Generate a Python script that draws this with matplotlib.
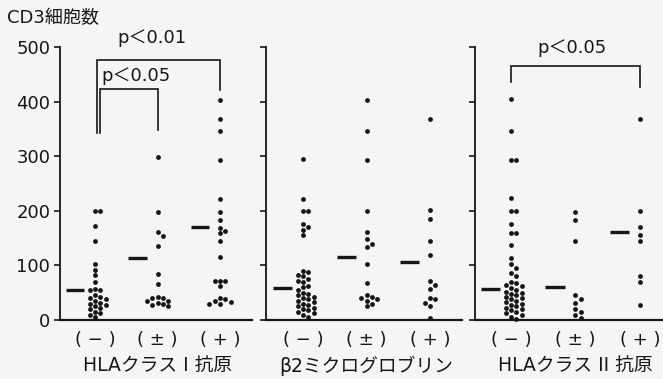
import numpy as np
import matplotlib
matplotlib.use("Agg")
import matplotlib.pyplot as plt

plt.rcParams['font.family'] = ['DejaVu Sans', 'Noto Sans CJK JP']

# CD3 cell counts per group
hla1_neg = [200, 200, 173, 145, 102, 92, 82, 70, 57, 55, 55, 45, 42, 40, 38, 35, 32,
            30, 28, 25, 22, 20, 15, 12, 10, 5]
hla1_pm = [298, 198, 162, 154, 135, 84, 66, 42, 40, 40, 35, 35, 32, 30, 28, 26]
hla1_pos = [403, 368, 346, 293, 222, 198, 183, 168, 163, 159, 145, 115, 72, 72, 72,
            62, 40, 38, 35, 33, 30, 30]

b2m_neg = [295, 222, 200, 200, 175, 170, 165, 156, 90, 88, 82, 80, 75, 72, 70, 62, 60,
           55, 50, 48, 45, 42, 40, 38, 35, 33, 30, 28, 25, 22, 20, 18, 15, 12, 10, 5]
b2m_pm = [403, 346, 293, 200, 162, 148, 140, 134, 103, 68, 45, 42, 40, 38, 35, 30, 25]
b2m_pos = [368, 201, 185, 145, 119, 72, 64, 57, 40, 38, 32, 25, 3]

hla2_neg = [405, 346, 293, 293, 223, 200, 200, 176, 160, 160, 137, 113, 103, 95, 86, 80,
            70, 68, 65, 62, 58, 55, 52, 50, 48, 45, 42, 40, 38, 35, 33, 30, 28, 25, 22,
            20, 18, 15, 12, 10, 5, 2]
hla2_pm = [198, 183, 145, 45, 38, 32, 20, 15, 10, 3]
hla2_pos = [368, 200, 170, 155, 145, 80, 70, 27]

medians1 = [55, 113, 170]
medians2 = [58, 115, 107]
medians3 = [57, 60, 162]

groups = ['( − )', '( ± )', '( + )']
panel_titles = ['HLAクラス I 抗原', 'β2ミクログロブリン', 'HLAクラス II 抗原']
yticks = [0, 100, 200, 300, 400, 500]

W, H = 663, 379
fig = plt.figure(figsize=(W / 100, H / 100), dpi=100)
fig.patch.set_facecolor('#f5f6f3')
ink = '#161616'


def px_axes(left, right, top=47, bottom=320):
    return fig.add_axes([left / W, 1 - bottom / H, (right - left) / W, (bottom - top) / H])


def swarm(vals, step, dy=8.5):
    # simple column swarm: put each dot in the nearest free column
    placed = []
    xs = []
    order = [0, 1, -1, 2, -2, 3, -3, 4, -4]
    for v in vals:
        for c in order:
            if all(not (pc == c and abs(pv - v) < dy) for pv, pc in placed):
                placed.append((v, c))
                xs.append(c * step)
                break
    return np.array(xs)


panels = [
    (px_axes(60, 252), (-0.56, 2.512), [hla1_neg, hla1_pm, hla1_pos], medians1),
    (px_axes(266, 462), (-0.583, 2.504), [b2m_neg, b2m_pm, b2m_pos], medians2),
    (px_axes(475, 663), (-0.558, 2.357), [hla2_neg, hla2_pm, hla2_pos], medians3),
]

for i, (ax, xl, data, meds) in enumerate(panels):
    ax.set_facecolor('none')
    ax.set_xlim(*xl)
    ax.set_ylim(0, 500)
    for s in ['top', 'right']:
        ax.spines[s].set_visible(False)
    ax.spines['left'].set_linewidth(1.3)
    ax.spines['bottom'].set_linewidth(1.6)
    ax.spines['left'].set_color(ink)
    ax.spines['bottom'].set_color(ink)
    ax.set_yticks(yticks)
    ax.tick_params(axis='y', length=4, width=1.2, color=ink, pad=3)
    if i == 0:
        ax.set_yticklabels([str(t) for t in yticks], fontsize=13, color=ink)
    else:
        ax.set_yticklabels([])
    ax.set_xticks([])
    for g, vals in enumerate(data):
        vals = sorted(vals, reverse=True)
        xo = swarm(vals, 0.085)
        ax.scatter(g + xo, vals, s=12, color=ink, clip_on=False, zorder=3, linewidths=0)
        ax.plot([g - 0.47, g - 0.17], [meds[g], meds[g]], color=ink, lw=2.4,
                solid_capstyle='butt')
        ax.text(g, -0.075, groups[g], transform=ax.get_xaxis_transform(),
                ha='center', va='center', fontsize=13, color=ink)
    ax.text(1, -0.168, panel_titles[i], transform=ax.get_xaxis_transform(),
            ha='center', va='center', fontsize=13.5, color=ink)

# significance brackets
ax1 = panels[0][0]
ax3 = panels[2][0]
br = dict(color=ink, lw=1.2, clip_on=False, solid_joinstyle='miter')
ax1.plot([0.03, 0.03, 2.0, 2.0], [342, 476, 476, 421], **br)
ax1.plot([0.08, 0.08, 1.0, 1.0], [342, 423, 423, 348], **br)
ax1.text(0.91, 517, 'p＜0.01', ha='center', va='center', fontsize=13, color=ink)
ax1.text(0.66, 447, 'p＜0.05', ha='center', va='center', fontsize=13, color=ink)
ax3.plot([0, 0, 2, 2], [436, 466, 466, 427], **br)
ax3.text(0.95, 498, 'p＜0.05', ha='center', va='center', fontsize=13, color=ink)

fig.text(7 / W, 1 - 18 / H, 'CD3細胞数', ha='left', va='center', fontsize=13, color=ink)

fig.savefig('out.png', dpi=100, facecolor=fig.get_facecolor())
